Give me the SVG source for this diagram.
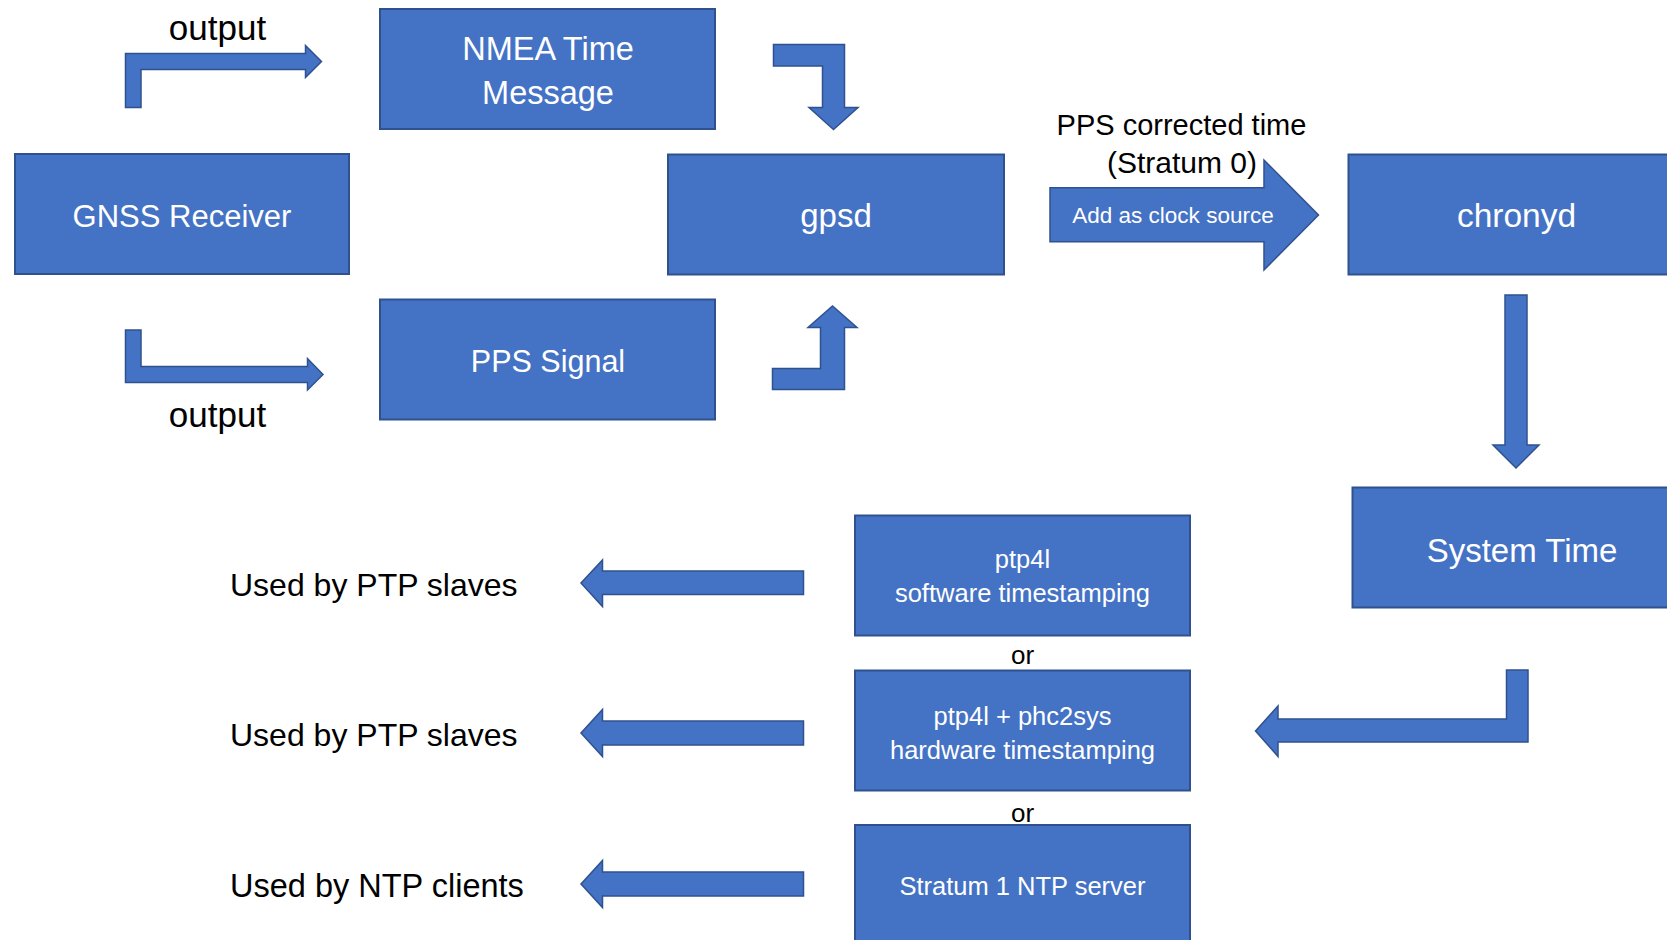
<svg xmlns="http://www.w3.org/2000/svg" width="1667" height="940" viewBox="0 0 1667 940">
<style>
.box{fill:#4472C4;stroke:#2F528F;stroke-width:2}
.arr{fill:#4472C4;stroke:#2F528F;stroke-width:1.5;stroke-linejoin:miter}
text{font-family:"Liberation Sans",Arial,sans-serif}
.w{fill:#FFFFFF;text-anchor:middle}
.k{fill:#000000}
.c{text-anchor:middle}
</style>
<rect width="1667" height="940" fill="#FFFFFF"/>
<g id="connectors">
<polygon class="arr" points="125.5,107.5 125.5,53.5 305.5,53.5 305.5,45.5 321.5,61.5 305.5,77.5 305.5,69.5 141,69.5 141,107.5"/>
<polygon class="arr" points="125.5,330 141,330 141,366.5 307.5,366.5 307.5,358.5 323,374.5 307.5,390 307.5,382.5 125.5,382.5"/>
<polygon class="arr" points="773.5,44.5 844.5,44.5 844.5,107.5 858,107.5 833.5,129.5 809,107.5 822.5,107.5 822.5,66 773.5,66"/>
<polygon class="arr" points="772.5,389.5 844.5,389.5 844.5,327.5 857,327.5 832.5,306 808,327.5 820.5,327.5 820.5,368.5 772.5,368.5"/>
<polygon class="arr" points="1050,187.7 1264,187.7 1264,160 1318.5,215 1264,270 1264,241.7 1050,241.7"/>
<polygon class="arr" points="1505,295 1527,295 1527,445 1539,445 1516,468 1493,445 1505,445"/>
<polygon class="arr" points="1528,670 1528,742 1278,742 1278,756.5 1255.5,731 1278,706 1278,719 1506.5,719 1506.5,670"/>
<polygon class="arr" points="803.5,571 602.5,571 602.5,560 581,583 602.5,606.5 602.5,594.5 803.5,594.5"/>
<polygon class="arr" points="803.5,721 602.5,721 602.5,709.5 581,733 602.5,756.5 602.5,745 803.5,745"/>
<polygon class="arr" points="803.5,872 602.5,872 602.5,860.5 581,884 602.5,907.5 602.5,896 803.5,896"/>
<text class="k c" x="217.5" y="40" font-size="35">output</text>
<text class="k c" x="217.5" y="427" font-size="35">output</text>
<text class="k c" x="1181.5" y="134.5" font-size="29">PPS corrected time</text>
<text class="k c" x="1182" y="173" font-size="30">(Stratum 0)</text>
<text class="w" x="1173" y="222.5" font-size="22.5">Add as clock source</text>
<text class="k c" x="1022.5" y="664" font-size="26">or</text>
<text class="k c" x="1022.5" y="822" font-size="26">or</text>
</g>
<g id="gnss">
<rect class="box" x="15" y="154" width="334" height="120"/>
<text class="w" x="182" y="226.5" font-size="31">GNSS Receiver</text>
</g>
<g id="nmea">
<rect class="box" x="380" y="9" width="335" height="120"/>
<text class="w" x="548" y="59.5" font-size="32.5">NMEA Time</text>
<text class="w" x="548" y="103.5" font-size="32.5">Message</text>
</g>
<g id="pps">
<rect class="box" x="380" y="299.5" width="335" height="120"/>
<text class="w" x="548" y="371.5" font-size="30.5">PPS Signal</text>
</g>
<g id="gpsd">
<rect class="box" x="668" y="154.5" width="336" height="120"/>
<text class="w" x="836" y="226.5" font-size="33">gpsd</text>
</g>
<g id="chronyd">
<rect class="box" x="1348.5" y="154.5" width="337" height="120"/>
<text class="w" x="1516.5" y="226.5" font-size="33.5">chronyd</text>
</g>
<g id="system-time">
<rect class="box" x="1352.5" y="487.5" width="337" height="120"/>
<text class="w" x="1522" y="561.5" font-size="33">System Time</text>
</g>
<g id="ptp4l-sw">
<rect class="box" x="855" y="515.5" width="335" height="120"/>
<text class="w" x="1022.5" y="568" font-size="25.5">ptp4l</text>
<text class="w" x="1022.5" y="602" font-size="25.5">software timestamping</text>
</g>
<g id="ptp4l-hw">
<rect class="box" x="855" y="670.5" width="335" height="120"/>
<text class="w" x="1022.5" y="724.5" font-size="25.5">ptp4l + phc2sys</text>
<text class="w" x="1022.5" y="759" font-size="25.5">hardware timestamping</text>
</g>
<g id="ntp-server">
<rect class="box" x="855" y="825" width="335" height="120"/>
<text class="w" x="1022.5" y="895" font-size="25.5">Stratum 1 NTP server</text>
</g>
<g id="ptp-slaves-1">
<text class="k" x="230" y="596" font-size="32">Used by PTP slaves</text>
</g>
<g id="ptp-slaves-2">
<text class="k" x="230" y="746" font-size="32">Used by PTP slaves</text>
</g>
<g id="ntp-clients">
<text class="k" x="230" y="896.5" font-size="32.5">Used by NTP clients</text>
</g>
</svg>
